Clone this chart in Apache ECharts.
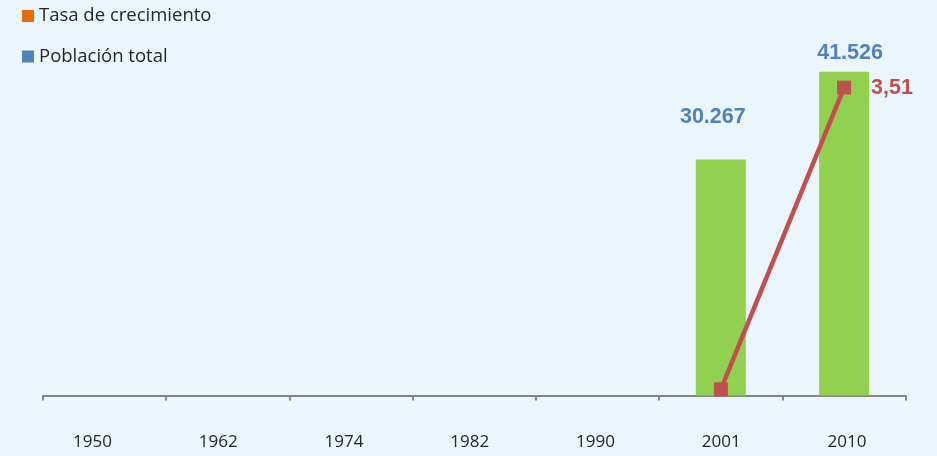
<!DOCTYPE html>
<html><head><meta charset="utf-8">
<script src="https://cdn.jsdelivr.net/npm/echarts@6/dist/echarts.min.js"></script>
<style>html,body{margin:0;padding:0;background:#EBF5FC;}#c{width:937px;height:456px;}</style>
</head><body><div id="c"></div>
<script>
const years = ['1950','1962','1974','1982','1990','2001','2010'];
const poblacion = [null,null,null,null,null,30267,41526];
const tasa = [null,null,null,null,null,0.07,3.51];
const poblacionLabels = ['','','','','','30.267','41.526'];
const tasaLabels = ['','','','','','','3,51'];

const boldFont = '"Liberation Sans",Arial,sans-serif';
const barOffsets = [[0,0],[0,0],[0,0],[0,0],[0,0],[-8,-23],[6,0]];

const chart = echarts.init(document.getElementById('c'));
chart.setOption({
  backgroundColor:'#EBF5FC',
  animation:false,
  legend:{
    orient:'vertical', left:17, top:1.5, itemWidth:12, itemHeight:12, itemGap:21.5, icon:'rect',
    textStyle:{fontFamily:'"Open Sans",sans-serif', fontSize:18.5, color:'#262626'},
    data:[
      {name:'Tasa de crecimiento', itemStyle:{color:'#E46C0A'}},
      {name:'Población total', itemStyle:{color:'#4F81BD'}}
    ]
  },
  grid:[
    {left:43, right:31.3, top:44.6, bottom:60.5},
    {left:29.6, width:880.3, top:44.6, bottom:60.5}
  ],
  xAxis:[
    {type:'category', data:years, gridIndex:0,
     axisLine:{lineStyle:{color:'#868686', width:2}},
     axisTick:{show:true, length:5, lineStyle:{color:'#868686', width:2}},
     axisLabel:{show:false}},
    {type:'category', data:years, gridIndex:1,
     axisLine:{show:false}, axisTick:{show:false},
     axisLabel:{margin:38, fontFamily:'"Open Sans",sans-serif', fontSize:17, color:'#262626'}}
  ],
  yAxis:[
    {type:'value', min:0, max:45000, gridIndex:0, show:false, splitLine:{show:false}},
    {type:'value', min:0, max:4, gridIndex:0, show:false, splitLine:{show:false}},
    {type:'value', min:0, max:1, gridIndex:1, show:false, splitLine:{show:false}}
  ],
  series:[
    {name:'Población total', type:'bar', xAxisIndex:0, yAxisIndex:0, barWidth:50,
     itemStyle:{color:'#92D050'},
     data: poblacion.map((v,i)=>({value:v, label:{show:!!poblacionLabels[i], offset:barOffsets[i]}})),
     label:{position:'top', distance:8, formatter:p=>poblacionLabels[p.dataIndex],
       fontFamily:boldFont, fontWeight:'bold', fontSize:21.5, color:'#4F81BD'}},
    {name:'Tasa de crecimiento', type:'line', xAxisIndex:0, yAxisIndex:1,
     symbol:'rect', symbolSize:14, connectNulls:false,
     lineStyle:{color:'#C0504D', width:4.5}, itemStyle:{color:'#C0504D'},
     data: tasa.map((v,i)=>({value:v, label:{show:!!tasaLabels[i]}})),
     label:{position:'right', distance:20, formatter:p=>tasaLabels[p.dataIndex],
       fontFamily:boldFont, fontWeight:'bold', fontSize:21.5, color:'#C0504D'}}
  ]
});
</script></body></html>
